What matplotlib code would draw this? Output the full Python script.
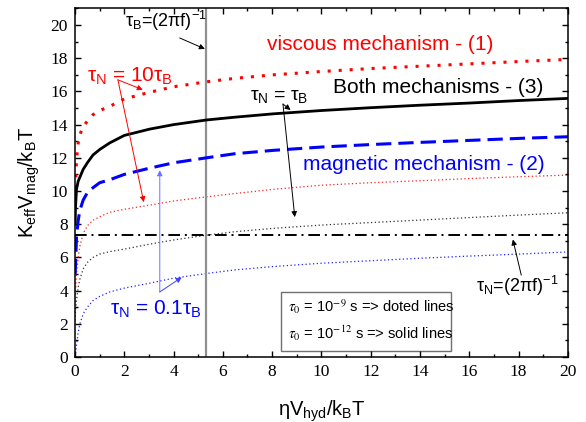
import numpy as np
import matplotlib
matplotlib.use("Agg")
import matplotlib.pyplot as plt
import matplotlib.ticker as ticker
from matplotlib.patches import Rectangle

plt.rcParams['font.family'] = 'Liberation Sans'
plt.rcParams['mathtext.fontset'] = 'custom'
plt.rcParams['mathtext.rm'] = 'Liberation Sans'
plt.rcParams['mathtext.it'] = 'Liberation Sans'
plt.rcParams['mathtext.bf'] = 'Liberation Sans:bold'

# values
x = [0.005, 0.02, 0.06, 0.13, 0.2, 0.33, 0.5, 0.73, 1.0, 1.41, 2.0, 3.03, 4.0,
     5.33, 6.5, 8.04, 10.0, 12.0, 14.0, 16.0, 18.0, 20.0]
# tau0 = 1e-12 s (thick lines)
visc_thick = [9.5, 10.2, 11.9, 12.9, 13.4, 13.9, 14.2, 14.6, 14.85, 15.1, 15.55, 15.95, 16.28,
              16.58, 16.79, 17.0, 17.2, 17.38, 17.52, 17.66, 17.8, 17.93]
both_thick = [8.0, 9.0, 10.1, 10.6, 10.84, 11.3, 11.7, 12.17, 12.5, 12.9, 13.35, 13.73, 14.0,
              14.28, 14.45, 14.65, 14.85, 15.02, 15.17, 15.3, 15.45, 15.58]
magn_thick = [5.0, 5.5, 7.2, 8.24, 8.85, 9.45, 9.9, 10.2, 10.5, 10.68, 11.0, 11.38, 11.7,
              12.0, 12.25, 12.45, 12.65, 12.8, 12.93, 13.05, 13.17, 13.27]
# tau0 = 1e-9 s (thin dotted lines)
visc_thin = [3.3, 4.0, 5.0, 6.0, 6.7, 7.45, 7.9, 8.24, 8.45, 8.72, 8.9, 9.15, 9.4,
             9.65, 9.85, 10.1, 10.35, 10.5, 10.62, 10.75, 10.86, 10.96]
both_thin = [2.2, 2.8, 3.42, 4.22, 4.7, 5.3, 5.7, 6.0, 6.2, 6.35, 6.5, 6.8, 7.05,
             7.34, 7.55, 7.75, 7.95, 8.1, 8.25, 8.4, 8.55, 8.69]
magn_thin = [0.0, 0.2, 0.7, 1.5, 2.0, 2.6, 3.0, 3.4, 3.65, 3.92, 4.15, 4.45, 4.75,
             5.03, 5.25, 5.45, 5.65, 5.8, 5.95, 6.08, 6.2, 6.33]

tauB_x = 5.33      # tau_B = (2 pi f)^-1
tauN_level = 7.34  # tau_N = (2 pi f)^-1

fig = plt.figure(figsize=(5.86, 4.22), dpi=100)
ax = fig.add_axes([0.128, 0.154, 0.841, 0.826])

ax.plot(x, visc_thin, color='#ff2020', lw=0.9, ls=(0, (1, 2)))
ax.plot(x, both_thin, color='#303030', lw=0.9, ls=(0, (1, 2)))
ax.plot(x, magn_thin, color='#2020ff', lw=0.9, ls=(0, (1, 2)))
ax.axhline(tauN_level, color='black', lw=1.4, ls=(0, (6, 2.5, 1, 2.5)))
ax.axvline(tauB_x, color='#909090', lw=1.6)
ax.plot(x, visc_thick, color='red', lw=2.2, ls=(0, (1, 2.6)))
ax.plot(x, magn_thick, color='blue', lw=2.2, ls=(0, (5, 2.3)))
ax.plot(x, both_thick, color='black', lw=2.0)

ax.set_xlim(0, 20)
ax.set_ylim(0, 21)
ax.xaxis.set_major_locator(ticker.MultipleLocator(2))
ax.xaxis.set_minor_locator(ticker.MultipleLocator(1))
ax.yaxis.set_major_locator(ticker.MultipleLocator(2))
ax.yaxis.set_minor_locator(ticker.MultipleLocator(1))
ax.tick_params(which='both', direction='in', top=True, right=True, width=1.0,
               labelsize=12.5, labelfontfamily='Liberation Serif', pad=5)
ax.tick_params(which='major', length=4)
ax.tick_params(which='minor', length=2.5)
for s in ax.spines.values():
    s.set_linewidth(1.1)

ax.set_xlabel(r'$\eta$V$_\mathrm{hyd}$/k$_\mathrm{B}$T', fontsize=14.5, labelpad=13)
ax.set_ylabel(r'K$_\mathrm{eff}$V$_\mathrm{mag}$/k$_\mathrm{B}$T', fontsize=14.5, labelpad=6)

# labels
ax.text(2.02, 19.88, r'$\tau_\mathrm{B}$=(2$\pi$f)$^{-1}$', fontsize=13, color='black')
ax.text(7.79, 18.49, 'viscous mechanism - (1)', fontsize=15, color='red')
ax.text(0.47, 16.59, r'$\tau_\mathrm{N}$ = 10$\tau_\mathrm{B}$', fontsize=15, color='red')
ax.text(10.47, 15.89, 'Both mechanisms - (3)', fontsize=15, color='black')
ax.text(7.09, 15.48, r'$\tau_\mathrm{N}$ = $\tau_\mathrm{B}$', fontsize=14, color='black')
ax.text(9.25, 11.26, 'magnetic mechanism - (2)', fontsize=15, color='blue')
ax.text(1.41, 2.52, r'$\tau_\mathrm{N}$ = 0.1$\tau_\mathrm{B}$', fontsize=15, color='blue')
ax.text(16.29, 3.92, r'$\tau_\mathrm{N}$=(2$\pi$f)$^{-1}$', fontsize=13, color='black')

# arrows
def arrow(xy, xytext, color):
    ax.annotate('', xy=xy, xytext=xytext,
                arrowprops=dict(arrowstyle='-|>', color=color, lw=0.7,
                                mutation_scale=8, shrinkA=0, shrinkB=0))

arrow((5.27, 18.56), (4.25, 19.22), 'black')
arrow((2.75, 16.1), (1.74, 16.7), 'red')
arrow((2.79, 9.33), (1.74, 16.7), 'red')
arrow((8.75, 14.88), (8.44, 15.24), 'black')
arrow((8.92, 8.43), (8.44, 15.24), 'black')
arrow((3.44, 11.25), (3.44, 3.92), '#7070ff')
arrow((4.33, 4.8), (3.44, 3.92), '#4040ff')
arrow((17.77, 7.08), (18.11, 4.93), 'black')

# note box
ax.add_patch(Rectangle((8.35, 0.36), 6.92, 3.56, fill=False, edgecolor='#707070', lw=1.0))
ax.text(8.63, 2.71, r'$\tau_0$ = 10$^{-9}$ s => doted lines', fontsize=10.5,
        math_fontfamily='stix')
ax.text(8.63, 1.11, r'$\tau_0$ = 10$^{-12}$ s => solid lines', fontsize=10.5,
        math_fontfamily='stix')

plt.savefig('out.png', dpi=100)
